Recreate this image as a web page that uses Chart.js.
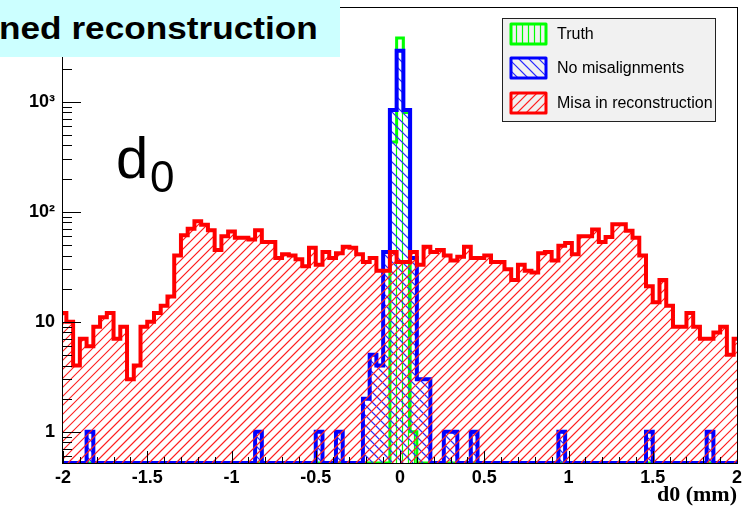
<!DOCTYPE html>
<html>
<head>
<meta charset="utf-8">
<script src="https://cdn.jsdelivr.net/npm/chart.js@4.4.0/dist/chart.umd.min.js"></script>
<style>
  html, body { margin: 0; padding: 0; background: #fff; }
  #wrap { position: relative; width: 747px; height: 511px; overflow: hidden; }
  #plot { position: absolute; left: 0; top: 0; }
  #titleBox { position: absolute; left: 0; top: 0; width: 340px; height: 57px; background: #ccffff; overflow: hidden; }
  #titleText { position: absolute; right: 22px; top: 10px; line-height: 1; font: bold 32px "Liberation Sans", Arial, sans-serif;
               white-space: nowrap; transform: scaleX(1.1); transform-origin: right center; color: #000; }
  .var { position: absolute; line-height: 1; font-family: "Liberation Sans", Arial, sans-serif; color: #000; }
</style>
</head>
<body>
<div id="wrap">
  <canvas id="plot" width="747" height="511"></canvas>
  <div id="titleBox"><div id="titleText">ned reconstruction</div></div>
  <div class="var" style="left:116px; top:129px; font-size:58px;">d</div>
  <div class="var" style="left:150px; top:155px; font-size:44px;">0</div>
</div>
<script>
// histogram binning: 101 bins of 0.04 mm, centred on -2.00 ... 2.00
const BIN_LO = -2.02;
const BIN_W = 0.04;
const Y_MIN = 0.52;
const Y_MAX = 7260;

const truthCounts = [
  0, 0, 0, 0, 0, 0, 0, 0, 0, 0,
  0, 0, 0, 0, 0, 0, 0, 0, 0, 0,
  0, 0, 0, 0, 0, 0, 0, 0, 0, 0,
  0, 0, 0, 0, 0, 0, 0, 0, 0, 0,
  0, 0, 0, 0, 0, 0, 0, 0, 0, 430,
  3800, 800, 1, 0, 0, 0, 0, 0, 0, 0,
  0, 0, 0, 0, 0, 0, 0, 0, 0, 0,
  0, 0, 0, 0, 0, 0, 0, 0, 0, 0,
  0, 0, 0, 0, 0, 0, 0, 0, 0, 0,
  0, 0, 0, 0, 0, 0, 0, 0, 0, 0,
  0
];

const noMisCounts = [
  0, 0, 0, 0, 1, 0, 0, 0, 0, 0,
  0, 0, 0, 0, 0, 0, 0, 0, 0, 0,
  0, 0, 0, 0, 0, 0, 0, 0, 0, 1,
  0, 0, 0, 0, 0, 0, 0, 0, 1, 0,
  0, 1, 0, 0, 0, 2, 5, 4, 43, 840,
  2900, 840, 38, 3, 3, 0, 0, 1, 1, 0,
  0, 1, 0, 0, 0, 0, 0, 0, 0, 0,
  0, 0, 0, 0, 1, 0, 0, 0, 0, 0,
  0, 0, 0, 0, 0, 0, 0, 1, 0, 0,
  0, 0, 0, 0, 0, 0, 1, 0, 0, 0,
  0
];

const misaCounts = [
  12, 10, 4, 7, 6, 9, 11, 12, 7, 9,
  3, 4, 9, 10, 12, 14, 17, 40, 61, 70,
  82, 76, 68, 45, 60, 66, 58, 58, 56, 68,
  53, 53, 38, 41, 40, 37, 32, 47, 33, 43,
  38, 42, 48, 47, 41, 35, 38, 29, 29, 43,
  35, 35, 43, 33, 48, 43, 45, 40, 36, 39,
  48, 38, 38, 40, 35, 35, 30, 24, 33, 29,
  28, 42, 43, 36, 49, 52, 41, 60, 60, 69,
  53, 59, 77, 77, 67, 58, 40, 21, 15, 24,
  14, 9, 9, 12, 9, 7, 7, 8, 9, 5,
  7
];

const xTickValues = [-2, -1.5, -1, -0.5, 0, 0.5, 1, 1.5, 2];
const yTickValues = [1, 10, 100, 1000];
const yTickLabels = ['1', '10', '10\u00b2', '10\u00b3'];
const legendLabels = ['Truth', 'No misalignments', 'Misa in reconstruction'];

// step outline points at the bin edges; empty bins sit on the frame bottom like ROOT does
function steps(counts) {
  const pts = counts.map((c, i) => ({ x: BIN_LO + i * BIN_W, y: c > 0 ? c : Y_MIN }));
  pts.push({ x: BIN_LO + counts.length * BIN_W, y: pts[pts.length - 1].y });
  return pts;
}

const colors = ['#00ff00', '#0000ff', '#ff0000'];
const hatches = [
  { color: '#00ff00', gap: 6, dir: '|' },
  { color: '#2a2aff', gap: 10, dir: '\\' },
  { color: '#ff2020', gap: 9, dir: '/' }
];

// hatch lines over a box; caller sets the clip
function strokeHatch(ctx, box, st) {
  ctx.strokeStyle = st.color;
  ctx.lineWidth = 1.2;
  ctx.beginPath();
  if (st.dir === '|') {
    for (let x = Math.floor(box.left / st.gap) * st.gap; x <= box.right; x += st.gap) {
      ctx.moveTo(x + 0.5, box.top);
      ctx.lineTo(x + 0.5, box.bottom);
    }
  } else if (st.dir === '/') {
    for (let c = Math.floor((box.left + box.top) / st.gap) * st.gap; c <= box.right + box.bottom; c += st.gap) {
      ctx.moveTo(c - box.bottom, box.bottom);
      ctx.lineTo(c - box.top, box.top);
    }
  } else {
    for (let c = Math.floor((box.left - box.bottom) / st.gap) * st.gap; c <= box.right - box.top; c += st.gap) {
      ctx.moveTo(c + box.top, box.top);
      ctx.lineTo(c + box.bottom, box.bottom);
    }
  }
  ctx.stroke();
}

const rootStyle = {
  id: 'rootStyle',
  beforeDatasetDraw(chart, args) {
    const pts = args.meta.data;
    const a = chart.chartArea;
    const ctx = chart.ctx;
    ctx.save();
    ctx.beginPath();
    ctx.rect(a.left, a.top, a.right - a.left, a.bottom - a.top);
    ctx.clip();
    ctx.beginPath();
    ctx.moveTo(pts[0].x, a.bottom);
    ctx.lineTo(pts[0].x, pts[0].y);
    for (let j = 1; j < pts.length; j++) {
      ctx.lineTo(pts[j].x, pts[j - 1].y);
      ctx.lineTo(pts[j].x, pts[j].y);
    }
    ctx.lineTo(pts[pts.length - 1].x, a.bottom);
    ctx.closePath();
    ctx.clip();
    strokeHatch(ctx, a, hatches[args.index]);
    ctx.restore();
  },
  afterDatasetsDraw(chart) {
    const { ctx, chartArea: a } = chart;
    const xs = chart.scales.x;
    const ys = chart.scales.y;
    ctx.save();
    ctx.strokeStyle = '#000';
    ctx.lineWidth = 1;
    ctx.beginPath();
    for (let i = -20; i <= 20; i++) {
      const px = Math.round(xs.getPixelForValue(i / 10)) + 0.5;
      const len = i % 5 === 0 ? 12 : 6;
      ctx.moveTo(px, a.bottom);
      ctx.lineTo(px, a.bottom - len);
    }
    for (let d = -1; d <= 3; d++) {
      for (let m = 1; m <= 9; m++) {
        const v = m * Math.pow(10, d);
        if (v < Y_MIN || v > Y_MAX) continue;
        const py = Math.round(ys.getPixelForValue(v)) + 0.5;
        ctx.moveTo(a.left, py);
        ctx.lineTo(a.left + (m === 1 ? 18 : 9), py);
      }
    }
    ctx.stroke();
    ctx.strokeRect(a.left - 0.5, a.top + 0.5, a.right - a.left + 1, a.bottom - a.top);

    // legend box
    const bx = 502, by = 18, bw = 213, bh = 103;
    ctx.fillStyle = '#f1f1f1';
    ctx.fillRect(bx, by, bw, bh);
    ctx.strokeStyle = '#222';
    ctx.strokeRect(bx + 0.5, by + 0.5, bw, bh);
    const rows = [34, 68, 103];
    ctx.font = '16px "Liberation Sans", Arial, sans-serif';
    ctx.textBaseline = 'middle';
    legendLabels.forEach((label, i) => {
      const sx = 511, sy = rows[i] - 10, sw = 35, sh = 20;
      ctx.save();
      ctx.beginPath();
      ctx.rect(sx, sy, sw, sh);
      ctx.clip();
      strokeHatch(ctx, { left: sx, top: sy, right: sx + sw, bottom: sy + sh }, hatches[i]);
      ctx.restore();
      ctx.lineWidth = 3;
      ctx.lineJoin = 'round';
      ctx.strokeStyle = colors[i];
      ctx.strokeRect(sx, sy, sw, sh);
      ctx.fillStyle = '#000';
      ctx.fillText(label, 557, rows[i] + 1);
    });
    ctx.restore();
  }
};

new Chart(document.getElementById('plot'), {
  type: 'line',
  data: {
    datasets: [
      { label: legendLabels[0], data: steps(truthCounts), borderColor: colors[0], borderWidth: 3, fill: false, order: 3 },
      { label: legendLabels[1], data: steps(noMisCounts), borderColor: colors[1], borderWidth: 4, fill: false, order: 2 },
      { label: legendLabels[2], data: steps(misaCounts), borderColor: colors[2], borderWidth: 4, fill: false, order: 1 }
    ]
  },
  options: {
    responsive: false,
    animation: false,
    devicePixelRatio: 1,
    layout: { padding: { top: 7, right: 10, left: 0, bottom: 0 } },
    elements: {
      line: { stepped: true, tension: 0, borderJoinStyle: 'miter', borderCapStyle: 'butt' },
      point: { radius: 0, hoverRadius: 0 }
    },
    plugins: { legend: { display: false }, tooltip: { enabled: false } },
    scales: {
      x: {
        type: 'linear',
        min: -2,
        max: 2,
        bounds: 'data',
        grid: { display: false, drawTicks: false },
        border: { display: false },
        afterBuildTicks: (s) => { s.ticks = xTickValues.map((v) => ({ value: v })); },
        afterFit: (s) => { s.height = 48; s.paddingLeft = 0; s.paddingRight = 0; },
        ticks: {
          autoSkip: false,
          maxRotation: 0,
          padding: 4,
          color: '#000',
          font: { family: '"Liberation Sans", Arial, sans-serif', size: 18, weight: 'bold' },
          callback: (v) => String(v)
        },
        title: {
          display: true,
          text: 'd0 (mm)',
          align: 'end',
          color: '#000',
          padding: { top: 0, bottom: 2 },
          font: { family: '"Liberation Serif", "Times New Roman", serif', size: 22, weight: 'bold' }
        }
      },
      y: {
        type: 'logarithmic',
        min: Y_MIN,
        max: Y_MAX,
        bounds: 'data',
        grid: { display: false, drawTicks: false },
        border: { display: false },
        afterBuildTicks: (s) => { s.ticks = yTickValues.map((v) => ({ value: v })); },
        afterFit: (s) => { s.width = 63; s.paddingTop = 0; s.paddingBottom = 0; },
        ticks: {
          autoSkip: false,
          padding: 8,
          color: '#000',
          font: { family: '"Liberation Sans", Arial, sans-serif', size: 18, weight: 'bold' },
          callback: (v) => yTickLabels[yTickValues.indexOf(v)]
        }
      }
    }
  },
  plugins: [rootStyle]
});
</script>
</body>
</html>
